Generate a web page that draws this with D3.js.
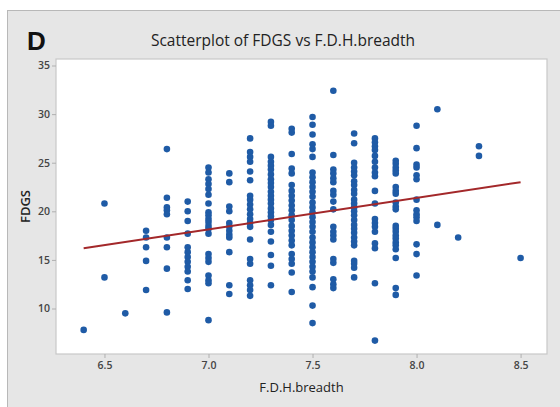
<!DOCTYPE html>
<html>
<head>
<meta charset="utf-8">
<script src="https://cdn.jsdelivr.net/npm/d3@7"></script>
<style>
  html, body { margin: 0; padding: 0; background: #ffffff; }
  svg { display: block; }
</style>
</head>
<body>
<svg id="chart" width="560" height="407"></svg>
<script>
// ---- data ----
const breadthLevels = [6.4, 6.5, 6.6, 6.7, 6.8, 6.9, 7.0, 7.1, 7.2, 7.3, 7.4, 7.5, 7.6, 7.7, 7.8, 7.9, 8.0, 8.1, 8.2, 8.3, 8.5];
const fdgsByLevel = [
  [7.8],
  [20.8, 13.2],
  [9.5],
  [18.0, 17.3, 16.3, 14.9, 11.9],
  [26.4, 21.4, 20.4, 20.1, 19.7, 17.3, 16.3, 14.1, 9.6],
  [21.0, 20.0, 19.0, 17.7, 16.3, 15.8, 15.3, 14.8, 14.3, 13.8, 12.9, 12.0],
  [24.5, 24.0, 23.3, 22.8, 22.3, 21.7, 20.8, 19.9, 19.6, 19.2, 18.9, 18.5, 18.2, 17.7, 15.6, 15.2, 14.8, 13.4, 12.9, 12.6, 8.8],
  [23.9, 23.0, 20.5, 20.0, 18.8, 18.4, 18.0, 17.6, 17.3, 15.8, 12.4, 11.5],
  [27.5, 26.1, 25.6, 25.1, 24.1, 23.2, 21.6, 21.2, 20.7, 20.2, 19.7, 19.2, 18.8, 18.4, 17.1, 15.1, 14.6, 12.9, 12.4, 11.9, 11.3],
  [29.2, 28.8, 25.6, 25.1, 24.7, 24.3, 23.8, 23.3, 22.9, 22.5, 22.0, 21.6, 21.2, 20.8, 20.3, 19.9, 19.5, 19.1, 18.6, 17.9, 16.9, 15.5, 14.4, 12.4],
  [28.5, 28.1, 25.9, 24.4, 23.9, 22.7, 22.1, 21.6, 21.1, 20.6, 20.1, 19.6, 19.1, 18.5, 18.0, 17.5, 17.0, 16.5, 15.6, 15.1, 14.6, 13.7, 11.7],
  [29.7, 28.9, 27.9, 26.9, 26.4, 25.6, 24.0, 23.5, 23.0, 22.5, 22.0, 21.5, 20.9, 20.4, 19.9, 19.4, 18.9, 18.4, 17.9, 17.3, 16.8, 16.3, 15.8, 15.3, 14.8, 14.3, 13.8, 13.2, 12.2, 10.3, 8.5],
  [32.4, 25.8, 24.3, 23.9, 23.4, 23.0, 22.1, 21.7, 21.0, 20.2, 18.4, 17.9, 17.5, 17.1, 15.1, 14.7, 13.0, 12.5, 12.1],
  [28.0, 27.0, 25.0, 24.5, 24.1, 23.7, 23.1, 22.7, 22.2, 21.8, 21.2, 20.8, 20.4, 20.0, 19.6, 19.1, 18.6, 18.2, 17.8, 17.3, 16.9, 16.5, 14.9, 14.6, 14.2, 13.2],
  [27.5, 27.1, 26.7, 26.3, 25.7, 25.1, 24.5, 24.0, 23.6, 22.1, 20.8, 19.2, 18.8, 18.4, 17.9, 16.7, 16.2, 12.6, 6.7],
  [25.2, 24.9, 24.5, 24.2, 23.9, 22.5, 22.1, 21.8, 20.9, 20.5, 20.2, 18.5, 18.2, 17.9, 17.5, 17.2, 16.8, 16.5, 16.1, 15.2, 12.1, 11.4],
  [28.8, 26.5, 24.8, 24.5, 23.7, 23.3, 21.2, 20.1, 19.7, 19.4, 19.0, 16.6, 15.6, 13.4],
  [30.5, 18.6],
  [17.3],
  [26.7, 25.7],
  [15.2]
];
// fitted regression line
const fitX = [6.4, 8.5];
const fitY = [16.2, 23.0];
const xTicks = [6.5, 7.0, 7.5, 8.0, 8.5];
const yTicks = [10, 15, 20, 25, 30, 35];
const titleText = "Scatterplot of FDGS vs F.D.H.breadth";
const panelLetter = "D";
const xTitle = "F.D.H.breadth";
const yTitle = "FDGS";

// ---- drawing ----
const points = [];
breadthLevels.forEach((b, i) => fdgsByLevel[i].forEach(v => points.push({ x: b, y: v })));

const svg = d3.select("#chart");
const plot = { left: 56, top: 59, right: 547, bottom: 354 };

const x = d3.scaleLinear().domain([6.267, 8.627]).range([plot.left, plot.right]);
const y = d3.scaleLinear().domain([5.32, 35.67]).range([plot.bottom, plot.top]);

// outer gray panel
svg.append("rect")
  .attr("x", 7.5).attr("y", 10.5)
  .attr("width", 560).attr("height", 400)
  .attr("fill", "#e6e6e6")
  .attr("stroke", "#b8b8b8").attr("stroke-width", 1);

// plot area
svg.append("rect")
  .attr("x", plot.left).attr("y", plot.top)
  .attr("width", plot.right - plot.left).attr("height", plot.bottom - plot.top)
  .attr("fill", "#ffffff")
  .attr("stroke", "#c8c8c8").attr("stroke-width", 1.2);

const fontFam = "'Open Sans', 'Segoe UI', 'Noto Sans', sans-serif";

// axes
const xAxis = svg.append("g")
  .attr("transform", `translate(0,${plot.bottom})`)
  .call(d3.axisBottom(x).tickValues(xTicks).tickFormat(d3.format(".1f")).tickSizeOuter(0).tickSize(4).tickPadding(4));
const yAxis = svg.append("g")
  .attr("transform", `translate(${plot.left},0)`)
  .call(d3.axisLeft(y).tickValues(yTicks).tickFormat(d3.format("d")).tickSizeOuter(0).tickSize(4).tickPadding(2));

[xAxis, yAxis].forEach(g => {
  g.select(".domain").remove();
  g.selectAll(".tick line").attr("stroke", "#b0b0b0");
  g.selectAll(".tick text")
    .attr("fill", "#444")
    .style("font-family", fontFam)
    .style("font-size", "10.5px")
    .style("font-weight", "600");
});

// points
svg.append("g")
  .selectAll("circle")
  .data(points)
  .join("circle")
  .attr("cx", d => x(d.x))
  .attr("cy", d => y(d.y))
  .attr("r", 3.3)
  .attr("fill", "#1f5ba6");

// regression line
svg.append("line")
  .attr("x1", x(fitX[0])).attr("y1", y(fitY[0]))
  .attr("x2", x(fitX[1])).attr("y2", y(fitY[1]))
  .attr("stroke", "#a3282a")
  .attr("stroke-width", 2);

// titles
svg.append("text")
  .attr("x", 283).attr("y", 46)
  .attr("text-anchor", "middle")
  .attr("fill", "#222")
  .style("font-family", fontFam)
  .style("font-size", "15.5px")
  .text(titleText);

svg.append("text")
  .attr("x", 27).attr("y", 50)
  .attr("fill", "#111")
  .style("font-family", "'Liberation Sans', Arial, sans-serif")
  .style("font-size", "26px")
  .style("font-weight", "bold")
  .text(panelLetter);

svg.append("text")
  .attr("x", (plot.left + plot.right) / 2).attr("y", 392)
  .attr("text-anchor", "middle")
  .attr("fill", "#222")
  .style("font-family", fontFam)
  .style("font-size", "13px")
  .text(xTitle);

svg.append("text")
  .attr("transform", `translate(30,${(plot.top + plot.bottom) / 2}) rotate(-90)`)
  .attr("text-anchor", "middle")
  .attr("fill", "#222")
  .style("font-family", fontFam)
  .style("font-size", "13px")
  .style("font-weight", "600")
  .text(yTitle);
</script>
</body>
</html>
